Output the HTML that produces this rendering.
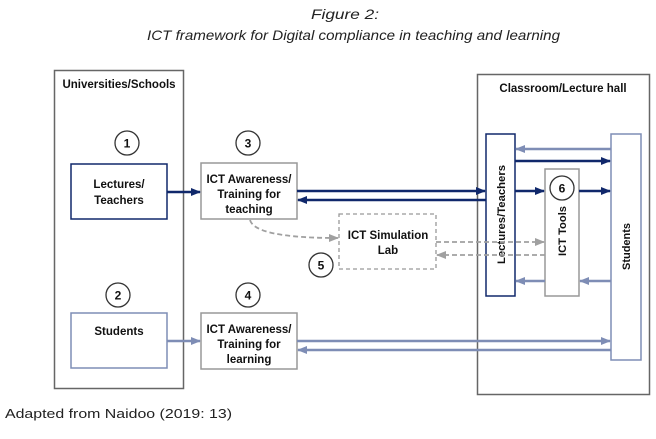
<!DOCTYPE html>
<html><head><meta charset="utf-8"><style>
html,body{margin:0;padding:0;background:#fff;}
body{width:656px;height:434px;overflow:hidden;position:relative;font-family:"Liberation Sans",sans-serif;}
</style></head><body>
<svg width="656" height="434" viewBox="0 0 656 434" xmlns="http://www.w3.org/2000/svg" font-family="Liberation Sans, sans-serif">
<defs>
<marker id="d" markerWidth="10" markerHeight="8" refX="9" refY="4" orient="auto" markerUnits="userSpaceOnUse"><path d="M0,0L10,4L0,8z" fill="#10286b"/></marker>
<marker id="l" markerWidth="10" markerHeight="8" refX="9" refY="4" orient="auto" markerUnits="userSpaceOnUse"><path d="M0,0L10,4L0,8z" fill="#7e8db5"/></marker>
<marker id="g" markerWidth="10" markerHeight="8" refX="9" refY="4" orient="auto" markerUnits="userSpaceOnUse"><path d="M0,0L10,4L0,8z" fill="#a0a0a0"/></marker>
</defs>
<g font-style="italic" font-size="14" fill="#222">
<text x="311" y="19" textLength="68" lengthAdjust="spacingAndGlyphs">Figure 2:</text>
<text x="147" y="40" textLength="413" lengthAdjust="spacingAndGlyphs">ICT framework for Digital compliance in teaching and learning</text>
</g>
<text x="5" y="418" font-size="13" fill="#222" textLength="227" lengthAdjust="spacingAndGlyphs">Adapted from Naidoo (2019: 13)</text>
<!-- panels -->
<rect x="54.5" y="70.5" width="129" height="318" fill="none" stroke="#666" stroke-width="1.5"/>
<text x="119" y="88" font-size="11.5" font-weight="bold" text-anchor="middle" fill="#111">Universities/Schools</text>
<rect x="477.5" y="74.5" width="172" height="320" fill="none" stroke="#666" stroke-width="1.5"/>
<text x="563" y="92" font-size="11.5" font-weight="bold" text-anchor="middle" fill="#111">Classroom/Lecture hall</text>
<!-- circles -->
<g fill="#fff" stroke="#333" stroke-width="1.3">
<circle cx="127" cy="143" r="12"/><circle cx="248" cy="143" r="12"/>
<circle cx="118" cy="295" r="12"/><circle cx="248" cy="295" r="12"/>
<circle cx="321" cy="265" r="12"/>
</g>
<g font-size="12" font-weight="bold" text-anchor="middle" fill="#111">
<text x="127" y="147.5">1</text><text x="248" y="147.5">3</text>
<text x="118" y="299.5">2</text><text x="248" y="299.5">4</text>
<text x="321" y="269.5">5</text>
</g>
<!-- boxes -->
<rect x="71" y="164" width="96" height="55" fill="#fff" stroke="#10286b" stroke-width="1.5"/>
<rect x="71" y="313" width="96" height="55" fill="#fff" stroke="#7e8db5" stroke-width="1.5"/>
<rect x="201" y="163" width="96" height="56" fill="#fff" stroke="#999" stroke-width="1.5"/>
<rect x="201" y="313" width="96" height="56" fill="#fff" stroke="#999" stroke-width="1.5"/>
<rect x="339" y="214" width="97" height="55" fill="#fff" stroke="#999" stroke-width="1.3" stroke-dasharray="4,3"/>
<g font-size="11.5" font-weight="bold" text-anchor="middle" fill="#111">
<text x="119" y="188">Lectures/</text><text x="119" y="204">Teachers</text>
<text x="119" y="335">Students</text>
<text x="249" y="183">ICT Awareness/</text><text x="249" y="198">Training for</text><text x="249" y="213">teaching</text>
<text x="249" y="333">ICT Awareness/</text><text x="249" y="348">Training for</text><text x="249" y="363">learning</text>
<text x="388" y="239">ICT Simulation</text><text x="388" y="254">Lab</text>
</g>
<!-- vertical boxes -->
<rect x="486" y="134" width="29" height="162" fill="#fff" stroke="#10286b" stroke-width="1.5"/>
<rect x="545" y="169" width="34" height="127" fill="#fff" stroke="#999" stroke-width="1.5"/>
<rect x="611" y="134" width="30" height="226" fill="#fff" stroke="#7e8db5" stroke-width="1.5"/>
<g font-size="11" font-weight="bold" fill="#111">
<text transform="translate(505,264) rotate(-90)" textLength="99" lengthAdjust="spacingAndGlyphs">Lectures/Teachers</text>
<text transform="translate(566,256) rotate(-90)" textLength="50" lengthAdjust="spacingAndGlyphs">ICT Tools</text>
<text transform="translate(630,270) rotate(-90)" textLength="47" lengthAdjust="spacingAndGlyphs">Students</text>
</g>
<circle cx="562" cy="188" r="12" fill="#fff" stroke="#333" stroke-width="1.3"/>
<text x="562" y="192.5" font-size="12" font-weight="bold" text-anchor="middle" fill="#111">6</text>
<!-- arrows dark -->
<g stroke="#10286b" stroke-width="2.5" fill="none">
<line x1="167" y1="192" x2="200" y2="192" marker-end="url(#d)"/>
<line x1="297" y1="191" x2="485" y2="191" marker-end="url(#d)"/>
<line x1="486" y1="200" x2="298" y2="200" marker-end="url(#d)"/>
<line x1="515" y1="161" x2="610" y2="161" marker-end="url(#d)"/>
<line x1="515" y1="191" x2="544" y2="191" marker-end="url(#d)"/>
<line x1="579" y1="191" x2="610" y2="191" marker-end="url(#d)"/>
</g>
<g stroke="#7e8db5" stroke-width="2.5" fill="none">
<line x1="611" y1="149" x2="516" y2="149" marker-end="url(#l)"/>
<line x1="545" y1="281" x2="516" y2="281" marker-end="url(#l)"/>
<line x1="611" y1="281" x2="580" y2="281" marker-end="url(#l)"/>
<line x1="167" y1="341" x2="200" y2="341" marker-end="url(#l)"/>
<line x1="297" y1="341" x2="610" y2="341" marker-end="url(#l)"/>
<line x1="611" y1="350" x2="298" y2="350" marker-end="url(#l)"/>
</g>
<g stroke="#a0a0a0" stroke-width="1.8" fill="none" stroke-dasharray="5,3">
<line x1="436" y1="242" x2="544" y2="242" marker-end="url(#g)"/>
<line x1="545" y1="255" x2="437" y2="255" marker-end="url(#g)"/>
<path d="M250,220 Q255,238 338,238" marker-end="url(#g)"/>
</g>
</svg>
</body></html>
